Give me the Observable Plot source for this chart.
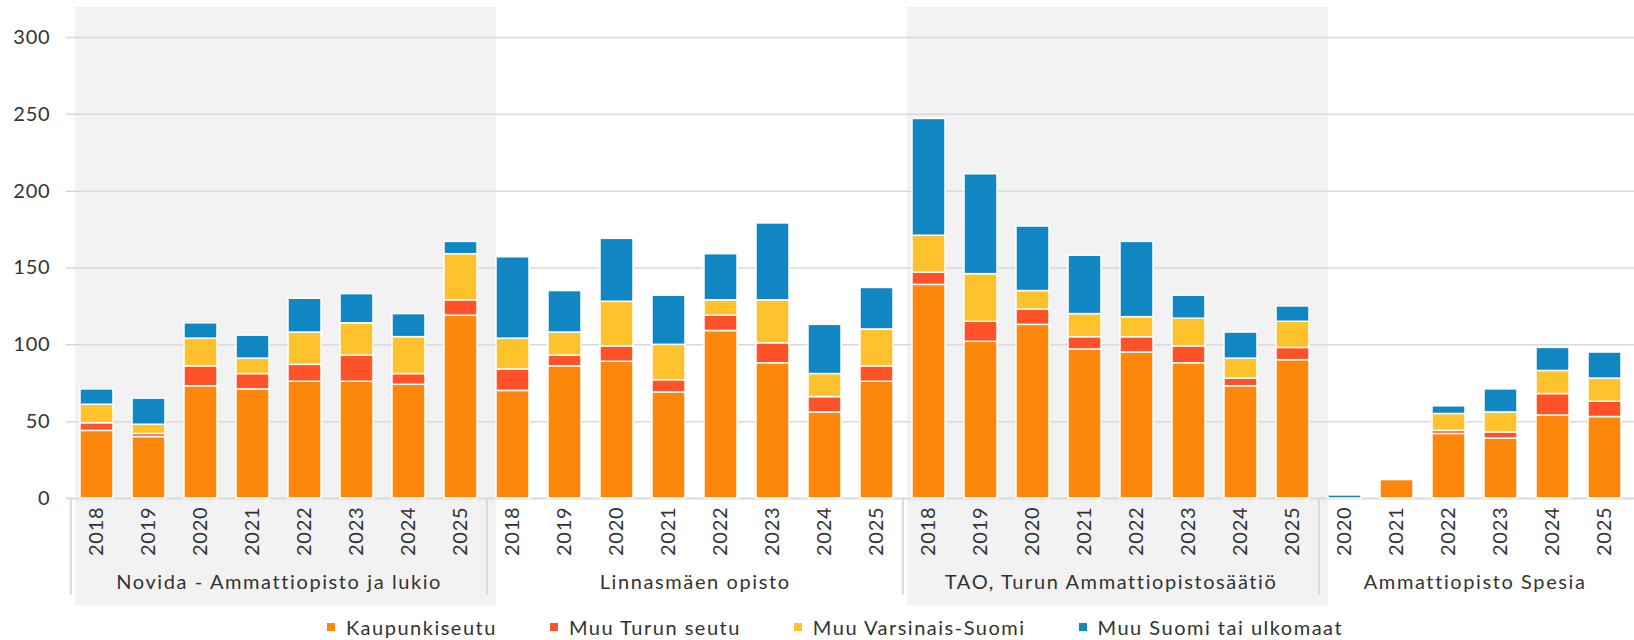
<!DOCTYPE html>
<html><head><meta charset="utf-8">
<script src="https://cdn.jsdelivr.net/npm/d3@7"></script>
<script src="https://cdn.jsdelivr.net/npm/@observablehq/plot@0.6"></script>
<style>
body{margin:0;background:#fff;font-family:Lato,"Open Sans",sans-serif;}
#legend{display:flex;justify-content:center;gap:53px;font-size:20px;color:#333;height:26px;align-items:center;padding-left:36px;letter-spacing:1.5px}
.item{display:flex;align-items:center;gap:11px}
.sw{width:8px;height:8px;display:inline-block}
#chart svg text{letter-spacing:0.8px}
#chart svg g[aria-label="text"] text{letter-spacing:1.6px}
</style></head><body><div id="chart"></div><div id="legend"></div>
<script>
// ---- data ----
const groups = ["Novida - Ammattiopisto ja lukio", "Linnasmäen opisto", "TAO, Turun Ammattiopistosäätiö", "Ammattiopisto Spesia"];
const groupYears = [
  [2018, 2019, 2020, 2021, 2022, 2023, 2024, 2025],
  [2018, 2019, 2020, 2021, 2022, 2023, 2024, 2025],
  [2018, 2019, 2020, 2021, 2022, 2023, 2024, 2025],
  [2020, 2021, 2022, 2023, 2024, 2025]
];
const shadedGroups = [0, 2];
const seriesNames = ["Kaupunkiseutu", "Muu Turun seutu", "Muu Varsinais-Suomi", "Muu Suomi tai ulkomaat"];
const seriesColors = ["#fc870b", "#ff5229", "#ffc12c", "#1087c2"];
const kaupunkiseutu = [44,40,73,71,76,76,74,119, 70,86,89,69,109,88,56,76, 139,102,113,97,95,88,73,90, 0,12,42,39,54,53];
const muuTurunSeutu = [5,2,13,10,11,17,7,10, 14,7,10,8,10,13,10,10, 8,13,10,8,10,11,5,8, 0,0,2,4,14,10];
const muuVarsinaisSuomi = [12,6,18,10,21,21,24,30, 20,15,29,23,10,28,15,24, 24,31,12,15,13,18,13,17, 0,0,11,13,15,15];
const muuSuomi = [10,17,10,15,22,19,15,8, 53,27,41,32,30,50,32,27, 76,65,42,38,49,15,17,10, 2,0,5,15,15,17];
const yTicks = [0, 50, 100, 150, 200, 250, 300];

// ---- build table ----
const seriesValues = [kaupunkiseutu, muuTurunSeutu, muuVarsinaisSuomi, muuSuomi];
const cats = [];
groupYears.forEach((ys, g) => ys.forEach(y => cats.push({cat: g + "|" + y, group: g, year: y})));
const long = [];
cats.forEach((c, i) => seriesNames.forEach((s, k) => {
  const v = seriesValues[k][i];
  if (v > 0) long.push({cat: c.cat, series: s, value: v});
}));
const firstOfGroup = groupYears.map((ys, g) => g + "|" + ys[0]);
const midOfGroup = groupYears.map((ys, g) => ({cat: g + "|" + ys[ys.length / 2 - 1], label: groups[g]}));
const shadeCats = cats.filter(c => shadedGroups.includes(c.group));

// ---- layout ----
const W = 1634, H = 614, ML = 66, MR = 0, MT = 37, MB = 116;
const step = (W - ML - MR) / cats.length;
const grid = "#d9d9d9", ink = "#333";

const chart = Plot.plot({
  width: W, height: H,
  marginLeft: ML, marginRight: MR, marginTop: MT, marginBottom: MB,
  style: {fontFamily: "Lato, 'Open Sans', sans-serif", fontSize: "20px", color: ink, background: "transparent", overflow: "visible"},
  x: {type: "band", domain: cats.map(c => c.cat), paddingInner: 0.37, paddingOuter: 0.185, axis: null},
  y: {domain: [0, 300], axis: null},
  color: {domain: seriesNames, range: seriesColors},
  marks: [
    Plot.barY(shadeCats, {x: "cat", y1: -70, y2: 319.5, fill: "#f2f2f2", insetLeft: -5, insetRight: -19}),
    Plot.gridY(yTicks.filter(t => t > 0), {stroke: grid, strokeOpacity: 1, strokeWidth: 1.5}),
    Plot.ruleY([0], {stroke: grid, strokeWidth: 2}),
    Plot.ruleX(firstOfGroup, {x: d => d, y1: 0, y2: -63, dx: -step / 2, stroke: grid, strokeWidth: 2}),
    Plot.barY(long, {x: "cat", y: "value", fill: "series", stroke: "white", strokeWidth: 1.5}),
    Plot.axisY({ticks: yTicks, tickSize: 0, tickPadding: 16, label: null, fill: ink, fontSize: 20}),
    Plot.axisX({tickRotate: -90, tickSize: 0, tickPadding: 8, label: null, tickFormat: d => d.split("|")[1], fill: ink, fontSize: 20}),
    Plot.text(midOfGroup, {x: "cat", y: -55, text: "label", dx: step / 2, fill: ink, fontSize: 20})
  ]
});
document.getElementById("chart").appendChild(chart);

// ---- legend ----
const legend = document.getElementById("legend");
seriesNames.forEach((s, k) => {
  const it = document.createElement("span");
  it.className = "item";
  it.innerHTML = `<span class="sw" style="background:${seriesColors[k]}"></span><span>${s}</span>`;
  legend.appendChild(it);
});
</script>
</body></html>
